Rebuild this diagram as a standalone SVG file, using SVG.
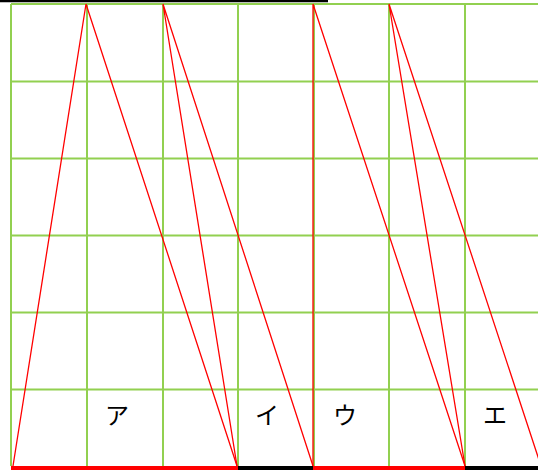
<svg xmlns="http://www.w3.org/2000/svg" width="538" height="470" viewBox="0 0 538 470">
<style>
.g{stroke:#92D050;stroke-width:2;fill:none}
.r{stroke:#FF0000;stroke-width:1.3;fill:none}
.t{font-family:"Noto Sans CJK JP","Noto Sans",sans-serif;font-size:24px;fill:#000;text-anchor:middle}
</style>
<rect width="538" height="470" fill="#fff"/>
<g id="grid">
<path class="g" d="M11,4V466M87,4V466M163,4V466M238,4V466M314,4V466M389,4V466M465,4V466"/>
<path class="g" d="M11,4H538M11,81.5H538M11,158.5H538M11,235.5H538M11,312.5H538M11,389.5H538"/>
</g>
<line x1="0" y1="1" x2="328" y2="1" stroke="#000" stroke-width="2.5"/>
<g id="connectors">
<path class="r" d="M86,4L13,466M86,4L237,466"/>
<path class="r" d="M163,4L237,466M163,4L313,466"/>
<path class="r" d="M313,4L313,466M313,4L465,466"/>
<path class="r" d="M389,4L465,466M389,4L541,466"/>
</g>
<g id="bar">
<rect x="11" y="466" width="227" height="4" fill="#FF0000"/>
<rect x="238" y="466" width="75" height="4" fill="#000"/>
<rect x="313" y="466" width="152" height="4" fill="#FF0000"/>
<rect x="465" y="466" width="73" height="4" fill="#000"/>
</g>
<g id="labels">
<text class="t" x="117" y="424">ア</text>
<text class="t" x="267" y="424">イ</text>
<text class="t" x="345" y="424">ウ</text>
<text class="t" x="495" y="424">エ</text>
</g>
</svg>
